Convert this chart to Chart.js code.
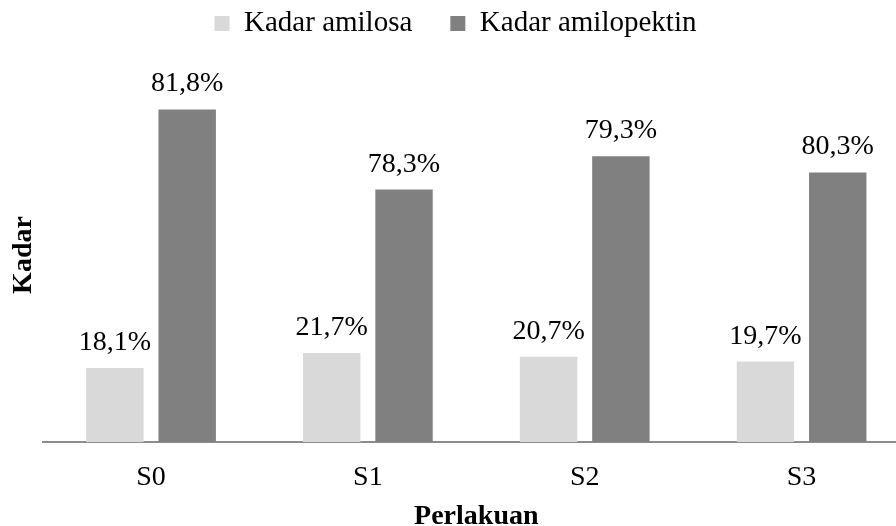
<!DOCTYPE html>
<html>
<head>
<meta charset="utf-8">
<script src="https://cdn.jsdelivr.net/npm/chart.js@4.4.1/dist/chart.umd.min.js"></script>
<style>
  html, body { margin: 0; padding: 0; background: #fff; overflow: hidden; }
  #wrap { width: 910px; height: 531px; }
</style>
</head>
<body>
<div id="wrap"><canvas id="chart"></canvas></div>
<script>
var categories = ["S0", "S1", "S2", "S3"]
var seriesNames = ["Kadar amilosa", "Kadar amilopektin"]
// bar heights
var amilosa = [18.2, 21.9, 21.0, 19.8]
var amilopektin = [81.8, 62.1, 70.3, 66.3]
// the printed labels
var amilosaLabels = ["18,1%", "21,7%", "20,7%", "19,7%"]
var amilopektinLabels = ["81,8%", "78,3%", "79,3%", "80,3%"]
var yMax = 92

var serif = "'Liberation Serif', 'Times New Roman', serif"

// writes the label text above each bar
var barLabels = {
  id: "barLabels",
  afterDatasetsDraw: function(chart) {
    var ctx = chart.ctx
    ctx.save()
    ctx.font = "28px " + serif
    ctx.fillStyle = "#000"
    ctx.textAlign = "center"
    ctx.textBaseline = "alphabetic"
    chart.data.datasets.forEach(function(ds, i) {
      chart.getDatasetMeta(i).data.forEach(function(bar, j) {
        ctx.fillText(ds.valueLabels[j], bar.x, bar.y - 18)
      })
    })
    ctx.restore()
  }
}

new Chart(document.getElementById("chart"), {
  type: "bar",
  data: {
    labels: categories,
    datasets: [
      {
        label: seriesNames[0],
        data: amilosa,
        valueLabels: amilosaLabels,
        backgroundColor: "#d9d9d9",
        categoryPercentage: 0.667,
        barPercentage: 0.794
      },
      {
        label: seriesNames[1],
        data: amilopektin,
        valueLabels: amilopektinLabels,
        backgroundColor: "#808080",
        categoryPercentage: 0.667,
        barPercentage: 0.794
      }
    ]
  },
  options: {
    responsive: true,
    maintainAspectRatio: false,
    animation: false,
    devicePixelRatio: 1,
    layout: { padding: { left: 1, right: 0, top: -29, bottom: 0 } },
    plugins: {
      legend: {
        position: "top",
        labels: {
          font: { family: serif, size: 29 },
          color: "#000",
          boxWidth: 15,
          boxHeight: 15,
          padding: 38
        }
      },
      // empty title used as a gap between legend and plot
      title: {
        display: true,
        text: "",
        weight: 500,
        font: { size: 20, lineHeight: 1 },
        padding: 0
      },
      tooltip: { enabled: false }
    },
    scales: {
      x: {
        grid: { display: false, drawTicks: false },
        border: { display: true, color: "#8c8c8c", width: 2 },
        ticks: { font: { family: serif, size: 28, lineHeight: 1 }, color: "#000", padding: 22 },
        title: {
          display: true,
          text: "Perlakuan",
          font: { family: serif, size: 28, weight: "bold", lineHeight: 1 },
          color: "#000",
          padding: { top: -11, bottom: 0 }
        }
      },
      y: {
        min: 0,
        max: yMax,
        grid: { display: false, drawTicks: false },
        border: { display: false },
        ticks: { display: false },
        title: {
          display: true,
          text: "Kadar",
          font: { family: serif, size: 28, weight: "bold" },
          color: "#000",
          padding: { top: 6, bottom: 2 }
        }
      }
    }
  },
  plugins: [barLabels]
})
</script>
</body>
</html>
